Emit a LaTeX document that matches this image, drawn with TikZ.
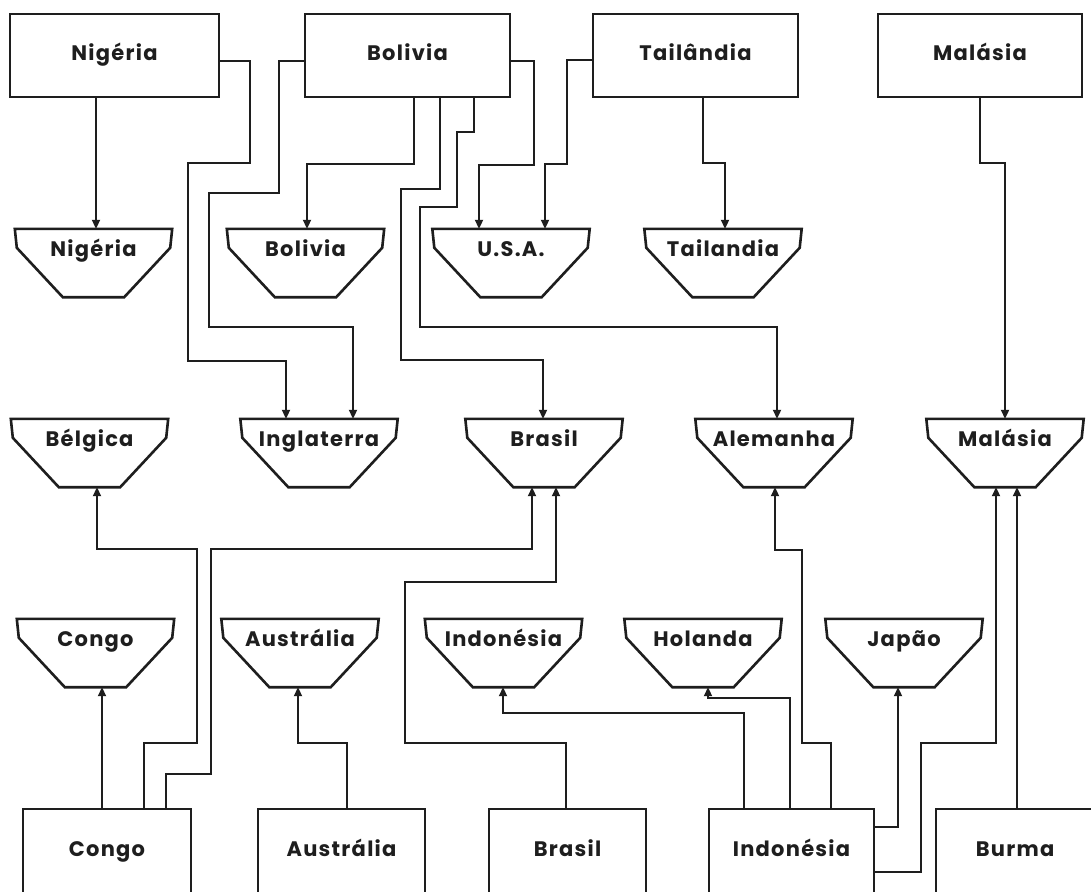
\documentclass[tikz,border=0pt]{standalone}
\usepackage{fontspec}
\setmainfont{Poppins}[LetterSpace=6]
\usetikzlibrary{arrows.meta,calc}
\definecolor{ink}{RGB}{30,30,30}
\newcommand\lblfont{\fontsize{21}{23}\selectfont\bfseries}
\newcommand\mytrap[3]{%
  \node[dst] (#1) at (#2) {#3};
  \draw[boxline] (#1.north west) -- ($(#1.north west)+(2,19)$) -- ($(#1.south west)+(48,0)$)
    -- ($(#1.south east)+(-48,0)$) -- ($(#1.north east)+(-2,19)$) -- (#1.north east) -- cycle;}
\begin{document}
\begin{tikzpicture}[x=1pt,y=-1pt,
  boxline/.style={draw=ink,line width=2.6pt},
  src/.style={boxline,inner sep=0pt,minimum height=83pt,text height=15pt,text depth=5pt,font=\lblfont,text=ink},
  dst/.style={inner sep=0pt,minimum width=157pt,minimum height=68pt,text height=14pt,text depth=27pt,font=\lblfont,text=ink},
  ln/.style={draw=ink,line width=2pt},
  arr/.style={ln,-{Triangle[length=9pt,width=8pt]}}]
\useasboundingbox (0,0) rectangle (1091,894);
\clip (0,0) rectangle (1091,891.5);
\fill[white] (0,0) rectangle (1091,894);
% source boxes top
\node[src,minimum width=209pt] (nigS) at (114.5,55.5) {Nigéria};
\node[src,minimum width=205pt] (bolS) at (407.5,55.5) {Bolivia};
\node[src,minimum width=205pt] (taiS) at (695.5,55.5) {Tailândia};
\node[src,minimum width=204pt] (malS) at (980,55.5) {Malásia};
% source boxes bottom
\node[src,minimum width=168pt,minimum height=84pt] (conS) at (107,851) {Congo};
\node[src,minimum width=167pt,minimum height=84pt] (ausS) at (341.5,851) {Austrália};
\node[src,minimum width=157pt,minimum height=84pt] (brsS) at (567.5,851) {Brasil};
\node[src,minimum width=165pt,minimum height=84pt] (indS) at (791.5,851) {Indonésia};
\node[src,minimum width=158pt,minimum height=84pt] (burS) at (1015,851) {Burma};
% destination trapezoids
\mytrap{nigT}{93.5,263}{Nigéria}
\mytrap{bolT}{305.5,263}{Bolivia}
\mytrap{usaT}{511,263}{U.S.A.}
\mytrap{taiT}{723,263}{Tailandia}
\mytrap{belT}{89.5,453}{Bélgica}
\mytrap{ingT}{319,453}{Inglaterra}
\mytrap{braT}{544,453}{Brasil}
\mytrap{aleT}{774,453}{Alemanha}
\mytrap{malT}{1005,453}{Malásia}
\mytrap{conT}{95.5,653}{Congo}
\mytrap{ausT}{300,653}{Austrália}
\mytrap{indT}{503.5,653}{Indonésia}
\mytrap{holT}{703,653}{Holanda}
\mytrap{japT}{904,653}{Japão}
% connectors from top
\draw[arr] (nigS.south -| 96,0) -- (nigT.north -| 96,0);
\draw[arr] (nigS.east |- 0,61) -- (250,61) -- (250,163) -- (188,163) -- (188,361) -- (286,361) -- (ingT.north -| 286,0);
\draw[arr] (bolS.west |- 0,61) -- (279,61) -- (279,193) -- (209,193) -- (209,327) -- (353,327) -- (ingT.north -| 353,0);
\draw[arr] (bolS.south -| 414,0) -- (414,164) -- (307,164) -- (bolT.north -| 307,0);
\draw[arr] (bolS.south -| 440,0) -- (440,189) -- (401,189) -- (401,360) -- (543,360) -- (braT.north -| 543,0);
\draw[arr] (bolS.south -| 474,0) -- (474,132) -- (457,132) -- (457,207) -- (420,207) -- (420,327) -- (777,327) -- (aleT.north -| 777,0);
\draw[arr] (bolS.east |- 0,61) -- (534,61) -- (534,165) -- (479,165) -- (usaT.north -| 479,0);
\draw[arr] (taiS.west |- 0,60) -- (567,60) -- (567,164) -- (545,164) -- (usaT.north -| 545,0);
\draw[arr] (taiS.south -| 703,0) -- (703,163) -- (725,163) -- (taiT.north -| 725,0);
\draw[arr] (malS.south -| 980,0) -- (980,163) -- (1005,163) -- (malT.north -| 1005,0);
% connectors from bottom
\draw[arr] (conS.north -| 102,0) -- (conT.south -| 102,0);
\draw[arr] (conS.north -| 144,0) -- (144,743) -- (197,743) -- (197,549) -- (97,549) -- (belT.south -| 97,0);
\draw[arr] (conS.north -| 166,0) -- (166,774) -- (211,774) -- (211,549) -- (532,549) -- (braT.south -| 532,0);
\draw[arr] (ausS.north -| 347,0) -- (347,743) -- (298,743) -- (ausT.south -| 298,0);
\draw[arr] (brsS.north -| 566,0) -- (566,743) -- (405,743) -- (405,582) -- (556,582) -- (braT.south -| 556,0);
\draw[arr] (indS.north -| 744,0) -- (744,713) -- (503,713) -- (indT.south -| 503,0);
\draw[arr] (indS.north -| 790,0) -- (790,698) -- (708,698) -- (holT.south -| 708,0);
\draw[arr] (indS.north -| 831,0) -- (831,743) -- (802,743) -- (802,550) -- (775,550) -- (aleT.south -| 775,0);
\draw[arr] (indS.east |- 0,827) -- (898,827) -- (japT.south -| 898,0);
\draw[arr] (indS.east |- 0,872) -- (921,872) -- (921,743) -- (996,743) -- (malT.south -| 996,0);
\draw[arr] (burS.north -| 1017,0) -- (malT.south -| 1017,0);
\end{tikzpicture}
\end{document}
